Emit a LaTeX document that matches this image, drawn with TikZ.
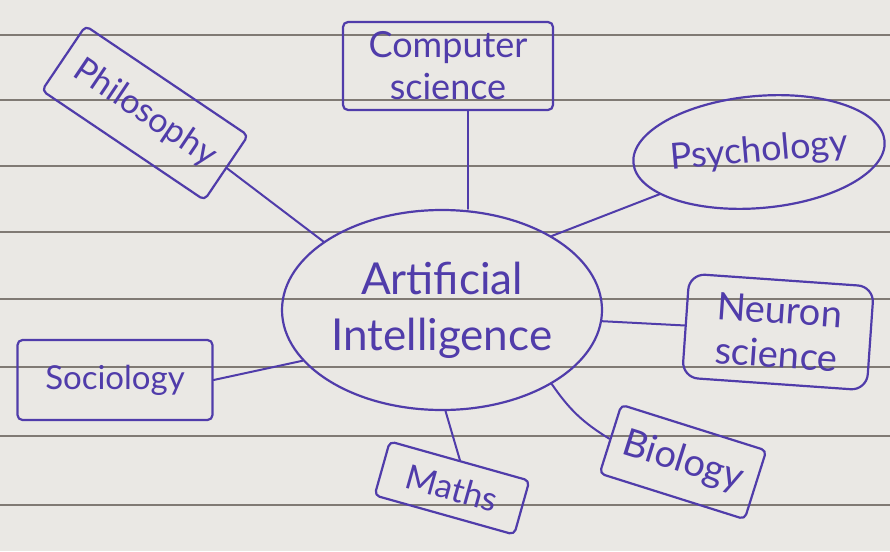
\documentclass[tikz,border=0pt]{standalone}
\usepackage{fontspec}
\setmainfont{Lato}
\usetikzlibrary{shapes.geometric,calc}
\definecolor{paper}{RGB}{234,232,228}
\definecolor{rule}{RGB}{128,122,116}
\definecolor{ink}{RGB}{80,60,170}
\newcommand{\fsz}[1]{\fontsize{#1}{#1}\selectfont}
\begin{document}
\begin{tikzpicture}[x=1pt,y=-1pt,
  pen/.style={draw=ink, line width=2.2pt, line cap=round, line join=round},
  label/.style={text=ink, align=center, inner sep=0pt},
  topic/.style={pen, label, rounded corners=5pt},
  bubble/.style={pen, label, ellipse},
  link/.style={draw=ink, line width=2pt, line cap=round}]
% ruled notebook page
\fill[paper] (0,0) rectangle (890,551);
\useasboundingbox (0,0) rectangle (890,551);
\foreach \y in {35,100,166,232,299,367,436,505}
  \draw[rule, line width=1.3pt] (0,\y) -- (890,\y);

% central topic
\node[bubble, minimum width=320pt, minimum height=200pt, font=\fsz{44}] (ai) at (442,310) {Artificial\\[12pt]Intelligence};

% surrounding fields
\node[topic, rotate=-34, minimum width=196pt, minimum height=78pt, font=\fsz{34}] (phil) at (145,113) {Philosophy};
\node[topic, minimum width=210pt, minimum height=88pt, font=\fsz{36}] (cs) at (448,66) {Computer\\[6pt]science};
\node[bubble, rotate=5, minimum width=236pt, minimum height=112pt, font=\fsz{36}] (psy) at (759,152) {Psychology};
\node[topic, rounded corners=16pt, rotate=-4, minimum width=185pt, minimum height=104pt, font=\fsz{38}] (neu) at (778,332) {Neuron\\[6pt]science};
\node[topic, rotate=-17.5, minimum width=152pt, minimum height=72pt, font=\fsz{38}] (bio) at (683,462) {Biology};
\node[topic, rotate=-15.7, minimum width=145pt, minimum height=56pt, font=\fsz{34}] (maths) at (452,488) {Maths};
\node[topic, minimum width=195pt, minimum height=80pt, font=\fsz{33}] (soc) at (115,380) {Sociology};

% links to the centre
\draw[link] (phil.east) -- (ai.150);
\draw[link] ([xshift=20pt]cs.south) -- ([xshift=26pt]ai.north);
\draw[link] (psy.198) -- (ai.34);
\draw[link] (ai.-4) -- (neu.west);
\draw[link] (bio.west) to[bend left=12] (ai.-34);
\draw[link] (ai.-88) -- (maths.north);
\draw[link] (soc.east) -- (ai.200);
\end{tikzpicture}
\end{document}
